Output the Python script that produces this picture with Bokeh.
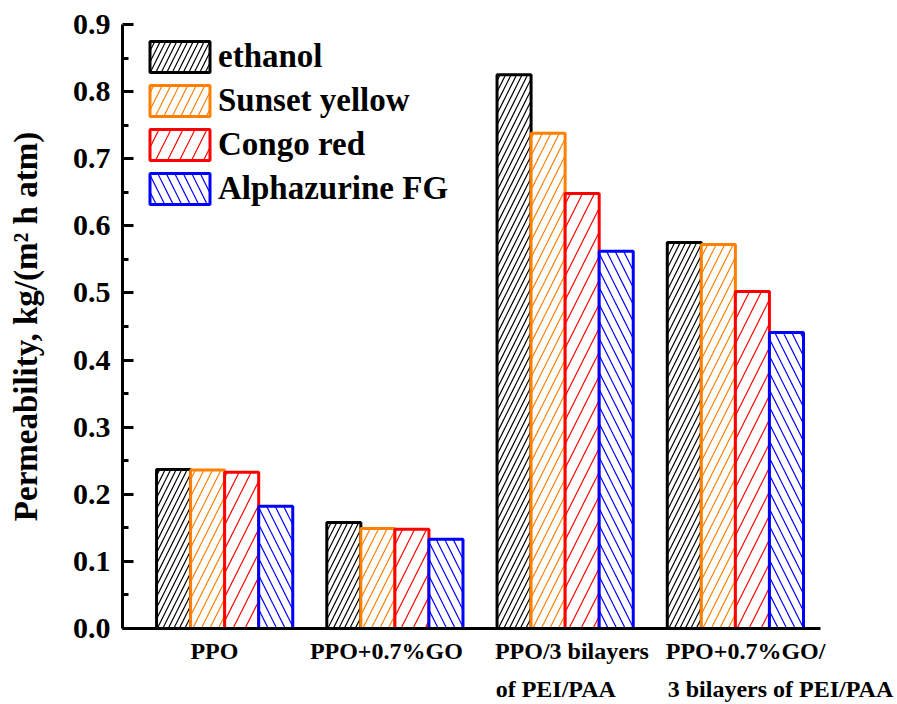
from bokeh.plotting import figure
from bokeh.models import (Range1d, FixedTicker, Legend, LegendItem, ColumnDataSource,
                          NumeralTickFormatter, LinearAxis)
from bokeh.transform import dodge
from bokeh.embed import file_html
from bokeh.resources import INLINE

# ---- data ----
groups = [1, 2, 3, 4]
label_line1 = ["PPO", "PPO+0.7%GO", "PPO/3 bilayers", "PPO+0.7%GO/"]
label_line2 = ["", "", "of PEI/PAA", "3 bilayers of PEI/PAA"]
series_names = ["ethanol", "Sunset yellow", "Congo red", "Alphazurine FG"]
ethanol = [0.237, 0.158, 0.825, 0.575]
sunset_yellow = [0.236, 0.149, 0.738, 0.572]
congo_red = [0.233, 0.148, 0.648, 0.502]
alphazurine_fg = [0.182, 0.133, 0.562, 0.441]
y_ticks = [0.0, 0.1, 0.2, 0.3, 0.4, 0.5, 0.6, 0.7, 0.8, 0.9]

# ---- styles ----
FONT = "Liberation Serif"
colors = ["#000000", "#FF8000", "#FF0000", "#0000FF"]
hatches = ["/", "/", "/", "\\"]
hatch_scales = [11, 17, 24, 17]
offsets = [-0.3, -0.1, 0.1, 0.3]
bar_w = 0.2
# horizontal nudges of the category label lines (in group units)
line1_dx = [-0.06, -0.05, 0.04, 0.06]
line2_dx = [0.0, 0.0, -0.055, 0.265]

source = ColumnDataSource(dict(
    x=groups, ethanol=ethanol, sunset_yellow=sunset_yellow,
    congo_red=congo_red, alphazurine_fg=alphazurine_fg))
cols = ["ethanol", "sunset_yellow", "congo_red", "alphazurine_fg"]

p = figure(width=897, height=704, x_range=Range1d(0.4, 4.5), y_range=Range1d(0, 0.9),
           output_backend="svg", toolbar_location=None,
           min_border_left=122, min_border_right=77, min_border_top=24, min_border_bottom=76)

p.xgrid.visible = False
p.ygrid.visible = False
p.outline_line_color = None
p.background_fill_color = "white"
p.border_fill_color = "white"

items = []
for col, name, c, h, hs, off in zip(cols, series_names, colors, hatches, hatch_scales, offsets):
    r = p.vbar(x=dodge("x", off), top=col, width=bar_w, bottom=0, source=source,
               fill_color="white", line_color=c, line_width=3,
               hatch_pattern=h, hatch_color=c, hatch_scale=hs, hatch_weight=1.2)
    items.append(LegendItem(label=name, renderers=[r]))

legend = Legend(items=items, location=(20, 420), glyph_width=75, glyph_height=39,
                spacing=5, padding=0, margin=0, label_standoff=1,
                label_text_font=FONT, label_text_font_style="bold",
                label_text_font_size="33px", label_text_color="black",
                border_line_color=None, background_fill_alpha=0)
p.add_layout(legend)

# y axis
ya = p.yaxis[0]
ya.ticker = FixedTicker(ticks=y_ticks, minor_ticks=[v + 0.05 for v in y_ticks[:-1]])
ya.formatter = NumeralTickFormatter(format="0.0")
ya.axis_line_width = 3
ya.major_tick_in = 11
ya.major_tick_out = 0
ya.minor_tick_in = 6
ya.minor_tick_out = 0
ya.major_tick_line_width = 3
ya.minor_tick_line_width = 3
ya.major_label_standoff = 12
ya.major_label_text_font = FONT
ya.major_label_text_font_style = "bold"
ya.major_label_text_font_size = "30px"
ya.major_label_text_color = "black"
ya.axis_label = "Permeability, kg/(m\u00b2 h atm)"
ya.axis_label_text_font = FONT
ya.axis_label_text_font_style = "bold"
ya.axis_label_text_font_size = "33px"
ya.axis_label_standoff = 26
ya.axis_label_text_color = "black"


def style_cat_axis(ax, ticks, labels, standoff):
    ax.ticker = FixedTicker(ticks=ticks, minor_ticks=[])
    ax.major_label_overrides = {t: lab for t, lab in zip(ticks, labels)}
    ax.major_tick_line_color = None
    ax.minor_tick_line_color = None
    ax.major_tick_in = 0
    ax.major_tick_out = 0
    ax.minor_tick_in = 0
    ax.minor_tick_out = 0
    ax.major_label_standoff = standoff
    ax.major_label_text_font = FONT
    ax.major_label_text_font_style = "bold"
    ax.major_label_text_font_size = "24px"
    ax.major_label_text_color = "black"


# first line of category labels on the main x axis
xa = p.xaxis[0]
ticks1 = [round(g + d, 3) for g, d in zip(groups, line1_dx)]
style_cat_axis(xa, ticks1, label_line1, 9)
xa.axis_line_width = 3

# second line of category labels on an extra axis below
ticks2 = [round(g + d, 3) for g, d, l in zip(groups, line2_dx, label_line2) if l]
labs2 = [l for l in label_line2 if l]
xa2 = LinearAxis()
style_cat_axis(xa2, ticks2, labs2, 9)
xa2.axis_line_color = None
p.add_layout(xa2, "below")

open("out.html", "w").write(file_html(p, INLINE))
